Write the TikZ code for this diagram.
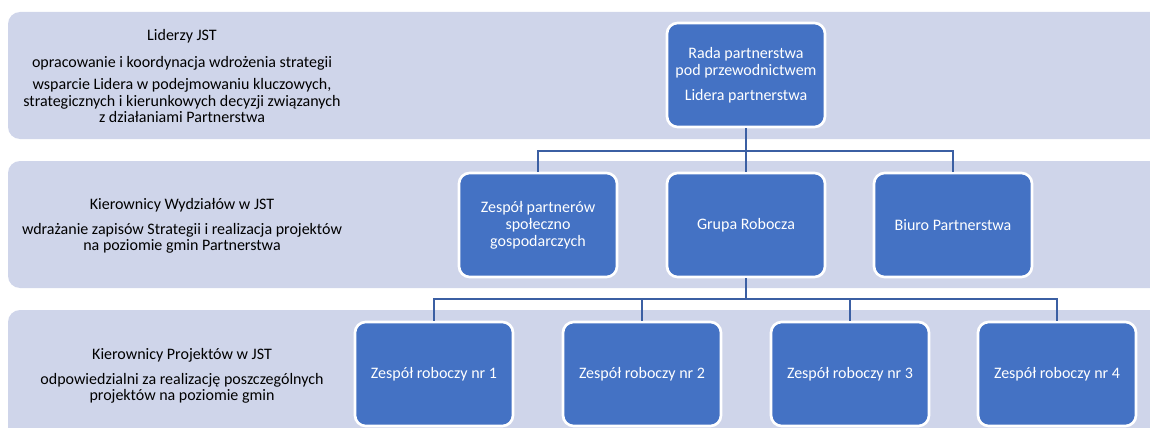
\documentclass[tikz,border=0pt]{standalone}
\usepackage{fontspec}
\setmainfont{Carlito}
\definecolor{bandfill}{HTML}{CFD5EA}
\definecolor{unitfill}{HTML}{4472C4}
\definecolor{linkcol}{HTML}{3B5FA3}
\tikzset{
  band/.style={fill=bandfill, rounded corners=9pt},
  unit/.style={draw=white, line width=2pt, fill=unitfill, rounded corners=8pt, text=white, align=center,
    minimum width=118.5pt, minimum height=78pt, inner sep=2pt, font=\fontsize{12}{12.75}\selectfont},
  bandtext/.style={align=center, text=black, font=\fontsize{12}{12.4}\selectfont},
  link/.style={draw=linkcol, line width=1.6pt}
}
\begin{document}
\begin{tikzpicture}[x=0.75pt, y=-0.75pt]
			\useasboundingbox (0, 0) rectangle (1150, 428);
			\clip (0, 0) rectangle (1150, 428); %bands run off the right and bottom edge
			\fill [band] (8, 12) rectangle (1175, 139);
			\fill [band] (8, 161) rectangle (1175, 288);
			\fill [band] (8, 310) rectangle (1175, 450);
			
			\node[bandtext] (lidtxt) at (182, 76) {Liderzy JST\\[8.5pt]opracowanie i koordynacja wdrożenia strategii\\[4pt]wsparcie Lidera w podejmowaniu kluczowych,\\strategicznych i kierunkowych decyzji związanych\\z działaniami Partnerstwa};
			\node[bandtext] (wydtxt) at (182, 226) {Kierownicy Wydziałów w JST\\[6.4pt]wdrażanie zapisów Strategii i realizacja projektów\\na poziomie gmin Partnerstwa};
			\node[bandtext] (projtxt) at (182, 376) {Kierownicy Projektów w JST\\[6.4pt]odpowiedzialni za realizację poszczególnych\\projektów na poziomie gmin};
			
			\node[unit] (rada) at (746, 75) {Rada partnerstwa\\pod przewodnictwem\\[6pt]Lidera partnerstwa};
			
			\node[unit] (zespol) at (538, 225) {Zespół partnerów\\społeczno\\gospodarczych};
			\node[unit] (grupa) at (746, 225) {Grupa Robocza};
			\node[unit] (biuro) at (953, 225) {Biuro Partnerstwa};
			
			\node[unit] (zr1) at (434, 374) {Zespół roboczy nr 1};
			\node[unit] (zr2) at (642, 374) {Zespół roboczy nr 2};
			\node[unit] (zr3) at (850, 374) {Zespół roboczy nr 3};
			\node[unit] (zr4) at (1057, 374) {Zespół roboczy nr 4};
			
			\coordinate (busa) at (746, 151); %first level bus
			\coordinate (busb) at (746, 299); %second level bus
			\draw [link] (rada.south) -- (grupa.north);
			\draw [link] (zespol.north) |- (busa) -| (biuro.north);
			\draw [link] (grupa.south) -- (busb);
			\draw [link] (zr1.north) |- (busb) -| (zr4.north);
			\draw [link] (zr2.north) |- (busb);
			\draw [link] (zr3.north) |- (busb);
		\end{tikzpicture}
\end{document}
